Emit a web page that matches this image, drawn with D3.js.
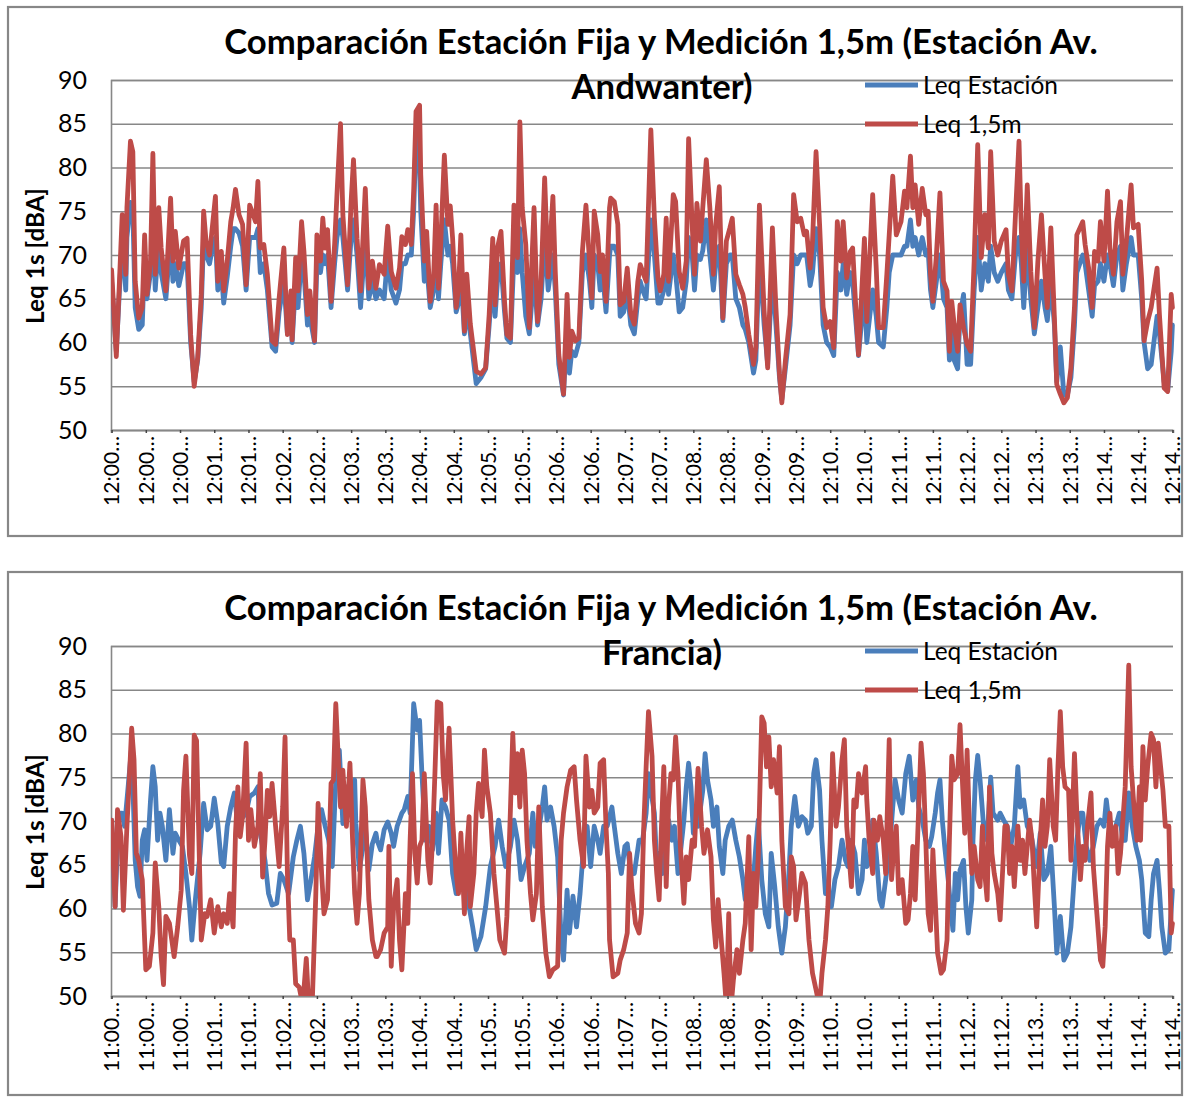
<!DOCTYPE html>
<html><head><meta charset="utf-8">
<script src="https://cdn.jsdelivr.net/npm/d3@7"></script>
<style>body{margin:0;background:#fff;} svg{display:block}</style>
</head><body><svg id="c" width="1185" height="1097"></svg>
<script>
// ---------------- DATA ----------------
const titleLine1 = "Comparación Estación Fija y Medición 1,5m (Estación Av.";
const titleTop2 = "Andwanter)";
const titleBot2 = "Francia)";
const seriesNames = ["Leq Estación", "Leq 1,5m"];
const yTitle = "Leq 1s [dBA]";
const yTickValues = [50, 55, 60, 65, 70, 75, 80, 85, 90];
const tickSeconds = [0,29,58,87,116,145,174,203,232,261,290,319,348,377,406,435,464,493,522,551,580,609,638,667,696,725,754,783,812,841,870,899];
const ticksTop = ["12:00…","12:00…","12:00…","12:01…","12:01…","12:02…","12:02…","12:03…","12:03…","12:04…","12:04…","12:05…","12:05…","12:06…","12:06…","12:07…","12:07…","12:08…","12:08…","12:09…","12:09…","12:10…","12:10…","12:11…","12:11…","12:12…","12:12…","12:13…","12:13…","12:14…","12:14…","12:14…"];
const ticksBottom = ["11:00…","11:00…","11:00…","11:01…","11:01…","11:02…","11:02…","11:03…","11:03…","11:04…","11:04…","11:05…","11:05…","11:06…","11:06…","11:07…","11:07…","11:08…","11:08…","11:09…","11:09…","11:10…","11:10…","11:11…","11:11…","11:12…","11:12…","11:13…","11:13…","11:14…","11:14…","11:14…"];

// Top chart (Av. Andwanter): seconds shared by both series
const topSec = [0,4,9,12,13,16,18,20,23,26,28,30,33,35,37,40,42,46,50,52,54,57,61,64,67,70,73,76,78,80,83,85,88,90,93,95,98,101,103,105,108,111,114,117,119,122,124,126,129,132,136,139,142,146,149,152,153,156,158,161,163,166,168,172,174,177,179,181,183,186,189,191,194,196,200,203,205,208,211,215,218,221,224,
227,231,234,237,241,244,246,249,251,254,256,258,261,262,265,267,270,273,275,277,279,282,285,287,289,292,294,296,299,301,304,309,313,317,320,323,325,327,330,333,335,338,341,344,346,348,351,354,358,361,364,367,370,374,376,379,383,386,388,390,393,396,399,402,405,407,409,412,414,416,419,422,423,426,429,431,434,437,440,443,446,448,
450,453,457,460,463,465,468,470,472,476,478,481,484,487,489,492,494,496,499,501,504,507,510,512,515,518,521,524,526,529,532,535,537,540,544,546,549,553,556,560,563,566,568,571,575,578,581,584,587,589,592,594,597,600,603,606,609,612,615,618,620,623,626,628,631,633,638,640,645,648,650,654,657,659,662,665,669,672,
674,677,679,681,684,687,690,692,694,696,699,702,705,708,710,712,714,717,719,722,725,728,731,734,737,740,743,745,748,751,754,758,760,763,766,769,771,773,776,779,782,785,788,791,793,796,799,801,804,807,810,813,816,818,823,825,828,831,833,836,838,841,844,846,849,852,855,857,860,864,866,870,873,875,878,881,886,888,892,895,898,899];
const topEstacion = [67,59,72,66,72,76,75,64,61.5,62,70,65,68,74,66,72,68,65,72,67,69,66.5,69,69,60,55.5,58,64,72,70,69,70.5,72,66,68,64.5,67.5,71,73,73,72.5,71,66,72,72,72,73,68,69,66,59.5,59,63.5,67,61,64,60,67,64,70,68,62,63,60,69,68,70,69,70,64,69,72,74,72,66,72,74,70,64,72,65,67,65,
66,65,70,66,64.5,66,69,69,70,70,75,83.5,80,75,67,69,64,66,71,65,69,74,70,71,69,63.5,64.5,68,61,64,61,55.3,56,57,62,68,63,67,69,63.5,60.5,60,70,68,73,68,63,61,68,62,65,72,66,70,66,57.5,54,62,56.5,59,58.5,60,68,70,67,64,70,69,66,68,63.5,70,71,71,70,63,63.5,66,62,61,65,67,
66,65,74,70,64.5,64.5,66,70,65.5,70,68,63.5,64,67,72,70,66,70,69.5,70.5,74,70,66,69,71,62.5,69,70,70,65,64,62,61.5,60,56.5,58,70,62,57.5,68,62,56,53.5,57,62,70,69,70,70,70,66.5,68,73,70,62,60,59.5,58.5,68,66,69,65.5,68,67,62,58.5,66,60,66,63,60,59.5,64,68,70,70,70,71,
71,74,71,72,70,72,70,70.5,66,64,67,70,65,64,58,63,58,57,63,65.5,57.5,57.5,66,72,66,69,67,71,68,67,68,69,66,65,70,72,69,64,71,65,61,64,67,64,62.5,67,62,55.5,59.5,54,54,56,62,68,70,69,66,63,66.5,67,69,67,70,69,66.5,70,71,66,69,72,70,70,65,60,57,57.5,63,61,55.5,54.5,59,62];
const top15 = [68.3,58.4,74.6,67.8,75.4,83,81.8,67,62.8,64,72.3,65.5,69.3,81.6,67.8,75.4,70.8,65.9,76.5,69.3,72.7,68.5,71.6,71.9,60.9,55,58.3,65.5,75,71.6,70,72.7,76.7,67,70.4,65.9,69.3,73.8,75.4,77.5,74.6,73.5,66.6,75.7,75,73.8,78.4,70.8,71.2,67.8,60.2,59.8,65.1,70.8,60.9,65.9,60.3,69.7,65.9,73.8,70.4,63.2,65.9,60.2,72.3,69.3,74.2,70.8,72.9,64.7,71.2,76.9,85,74.6,66.6,76.1,80.9,71.9,65.9,77.6,66.2,69.3,66.2,
68.9,67.8,73.3,68.1,66.2,68.5,72.1,71.2,72.9,71.2,77.3,86.4,87.1,79.2,69.3,72.7,64.7,67.8,75.7,66.2,71.6,81.4,73.5,75.6,71.9,64,66.2,72.3,61.3,67.8,62.1,56.7,56.4,57.1,63.2,71.9,64.3,70.8,72.7,64.7,60.9,60.5,75.7,69.7,85.2,75.4,71.2,61.7,75.4,62.4,67,78.8,67.5,76.7,68.1,58.6,54.1,65.5,58.3,61.3,60.2,60.5,70.4,75.7,69.3,65.1,75,72.3,68.1,70,64.7,75.4,76.5,76.1,73.5,64.3,64.7,68.5,63.2,62.1,67,68.9,
68.1,67,84.3,74.2,67.4,65.9,67.8,74.2,67,76.9,76.1,68.1,66.2,69.3,83.3,73.5,67.8,75.9,71.6,75.4,80.9,75.4,67.8,73.5,77.8,62.8,71.6,73.1,74.2,67.8,66.6,65.5,64,60.9,57.5,59.4,75.7,63.6,57.1,73.1,64,56.4,53.1,57.9,63.2,76.9,73.8,74.2,72.3,72.7,68.5,71.6,81.8,73.5,64,61.7,62.4,59.4,73.8,69.3,73.8,67.4,70.4,70.8,63.2,58.6,71.9,62.4,76.9,68.5,61.7,61.7,67.8,72.3,79,72.3,73.8,77.3,
75.4,81.3,75.4,78,73.5,77.6,74.6,75,67.8,64.7,70,77.1,67,65.9,59,64.7,62.1,59,64.3,61.7,59.8,59,69.3,82.6,69.7,74.6,70.8,81.8,71.6,70,71.6,72.9,67.8,65.9,74.6,83,72.7,67,78,68.1,61.7,69.3,74.6,67.8,64,73.1,62.8,55.2,54.1,53.1,53.7,57.1,64,72.3,73.8,71.2,68.5,64,70.4,69.3,73.8,69.3,77.3,70.8,67.8,73.8,76.1,67.8,71.6,78,73.1,73.5,67,60.2,62.4,64,68.5,63.2,54.8,54.4,65.5,64];

// Bottom chart (Av. Francia): each series has its own sampled seconds
const botEstSec = [0,3,6,9,11,14,17,20,22,24,26,28,30,33,35,37,39,41,43,46,49,52,54,57,60,63,66,68,71,75,78,81,84,87,90,93,95,98,101,104,107,109,114,117,121,124,126,130,133,136,140,143,146,150,154,157,160,163,166,169,172,175,178,181,184,187,190,193,196,199,203,206,207,210,213,215,218,221,224,
225,228,231,234,237,239,242,246,248,251,253,256,259,261,263,266,269,272,275,277,280,283,286,289,292,294,299,303,306,309,313,317,321,325,328,331,334,338,341,344,347,350,354,357,359,362,365,367,369,372,375,378,381,383,386,388,391,394,397,400,403,406,409,412,414,417,420,424,426,429,432,435,437,440,443,447,
450,453,455,457,460,462,464,467,470,472,475,477,480,482,485,487,489,491,493,495,497,501,503,505,508,510,513,515,518,520,523,526,529,532,535,537,540,543,546,548,551,554,557,559,562,565,568,571,574,576,579,582,585,588,590,593,595,597,600,602,605,607,610,613,616,619,622,624,627,630,633,636,638,640,643,645,648,651,653,656,659,662,664,667,670,673,
676,679,682,684,687,690,693,695,698,700,702,704,706,709,711,713,715,717,719,722,724,726,729,730,732,734,736,739,742,745,747,751,753,756,759,762,765,768,770,773,776,779,782,784,787,790,793,796,799,801,804,807,810,813,816,818,821,823,826,829,832,835,838,841,843,845,848,851,854,857,859,862,865,868,871,873,876,879,881,883,886,888,890,893,896,899];
const botEstacion = [70.1,60.2,70.9,70.9,69.4,73.9,78.5,65.5,62.5,61.4,67.8,69,65.5,72.4,76.2,73.9,67.8,70.9,69.4,65.5,71.3,66.3,68.6,67.8,67.1,64,60.2,56.4,61,66.3,72,69,69.4,72.6,69.7,65.2,64.8,69.4,71.6,73.2,69.4,70.1,70.9,72.8,73.2,73.9,68.6,65.5,61.7,60.4,60.6,64,63.3,61.7,65.9,67.8,69.4,66.3,61,63.3,65.9,69.4,71.3,69.4,67.8,64.8,74.7,78.1,69.7,73.9,71.6,74.7,69.7,64.4,67.1,69.4,64.4,67.4,68.6,
67.8,66.7,69,69.9,68.6,67.1,69.4,70.9,71.3,72.8,70.9,83.4,80.4,81.5,75.4,67.8,69.4,66.7,70.9,66.3,72.4,71.6,70.1,64,61.7,64,63.3,60.2,57.9,55.3,56.8,60.2,64.8,67.1,70.1,67.1,64.8,67.1,70.1,67.8,63.3,64.8,66.3,70.9,67.1,69,71.6,73.9,70.1,71.6,69.4,65.9,56.4,54.1,62.1,57.2,61.4,57.9,61.7,67.1,69.4,64.8,69.4,67.8,66.3,69.4,69.4,71.6,69.4,66.3,64,67.1,67.4,64,64,67.8,
67.8,70.9,75.4,73.5,70.9,64.8,66.3,64,67.8,70.1,67.8,69.4,64,66.3,70.1,73.9,76.6,73.9,68.6,71.6,69.4,73.5,77.7,74.7,72.4,69.4,71.6,67.1,64,67.8,69.4,70.1,67.8,65.9,63.3,61,64,61.7,67.1,70.1,63.3,59.4,57.9,66.3,62.5,57.9,54.9,57.9,64,69.4,72.8,69.4,70.5,70.1,68.6,69.4,75.4,77,73.5,67.8,61.7,62.5,60.2,63.3,64.8,67.8,65.5,64.8,67.8,66.3,61.7,63.3,67.8,64.8,65.5,70.1,66.3,61,60.2,63.3,66.3,71.6,74.7,72.4,70.9,75.4,
77.4,72.4,74.7,71.6,70.1,67.8,67.1,68.2,70.9,73.2,74.7,70.1,67.1,63.3,60.2,57.5,64,61,64.4,65.5,60.2,57.2,61,67.8,74.7,77.5,74.7,69.4,67.8,75,70.9,70.1,70.9,70.1,69.4,67.1,69.4,76.2,71.6,72.4,69.4,68.6,66.3,64.8,68.6,63.3,64,67.1,60.2,54.9,59.1,54.1,54.9,57.9,64,67.8,70.9,70.9,67.1,65.5,67.1,69.4,70.1,69.4,72.4,70.1,68.6,69.4,70.9,67.8,67.8,73.2,69.4,67.1,65.5,63.3,57.2,56.8,61,64,65.5,62.1,57.9,54.9,55.3,62.1];

const bot15Sec = [0,3,5,8,10,13,15,17,19,21,23,26,29,32,35,37,40,42,44,46,49,51,53,56,59,61,63,66,68,70,72,74,76,79,81,84,87,90,93,95,98,100,103,105,107,109,111,114,116,118,121,124,126,128,130,132,134,136,139,142,145,147,149,151,154,156,159,162,165,167,170,173,175,178,180,183,186,188,190,192,194,196,199,202,204,206,208,210,213,215,218,221,224,
225,228,231,234,235,237,239,242,244,246,249,251,253,255,257,259,261,263,265,268,270,272,274,276,279,281,283,286,289,292,294,296,299,301,303,304,307,309,311,314,316,318,321,324,326,329,333,335,338,340,342,344,346,348,350,352,355,357,360,362,365,368,371,374,378,381,383,386,389,392,394,397,400,402,405,407,409,412,414,417,419,421,422,425,429,431,434,437,439,441,444,447,
449,451,453,455,458,460,462,464,466,468,470,472,474,476,478,480,482,485,487,489,492,494,497,500,502,505,508,510,512,514,516,519,521,523,525,527,530,532,535,537,540,542,544,546,548,551,553,555,557,559,561,564,566,568,571,574,576,578,580,583,585,588,591,594,597,600,602,605,607,609,611,614,616,619,621,623,625,627,629,631,633,636,639,640,642,645,646,649,651,654,656,659,661,663,665,667,670,673,
675,677,679,681,683,686,688,690,692,694,696,698,700,703,705,708,710,712,714,717,719,721,723,725,727,729,731,734,736,738,740,742,744,746,748,751,753,755,757,759,761,763,765,768,770,772,774,776,778,780,782,784,787,789,791,793,795,798,800,802,804,806,808,811,813,816,818,821,823,825,827,830,832,835,838,840,842,844,846,848,851,853,855,857,859,862,864,866,869,871,872,874,876,878,881,883,885,887,889,891,893,896,898,899];
const bot15 = [70.1,60.2,71.3,68.2,59.8,69.4,74.7,80.6,77,66.3,65.5,63.3,53,53.4,57.2,65.2,60.2,54.5,51.3,59.1,58.3,56.4,54.5,57.9,62.1,73.5,77.4,66.1,64,79.8,79.2,67.8,56.4,59.4,59.1,61,57.2,60.2,57.9,59.4,58.3,61.7,57.9,68.6,73.9,68.2,70.5,78.9,67.8,71.3,67.1,69.4,75.4,63.6,67.8,73.5,70.5,74.3,69.4,64.8,71.6,79.6,64,56.4,56.4,51.4,51,49,54.3,49,49,61.3,72,64,59.4,61,74.3,74.7,83.4,77.4,71.6,75.8,69.4,76.6,68.6,61.7,58.3,61.7,74.7,71.6,61,56.4,54.5,
54.5,55.3,57.2,57.9,67.1,53.4,60.2,63.3,56.4,53,61.7,58.3,67.8,75.4,66.3,62.9,67.1,67.8,75.4,65.5,62.9,67.8,75.4,83.6,83.4,75.4,72.4,80.6,70.1,64,61.7,68.6,59.4,66.7,70.5,60.2,64,70.9,74.3,70.5,78.1,73.9,70.9,64,61,56.4,54.9,59.1,71.3,80,73.2,77.7,71.6,78.1,75.4,67.8,61.7,58.7,61.7,71.6,60.2,54.9,52.2,53,53.4,67.8,70.9,73.9,75.8,76.2,72.4,67.8,64.8,77.4,71.6,73.5,70.9,71.6,76.6,77,69.4,64,56.4,52.2,52.6,54.1,55.3,57.2,66.3,62.1,58.3,57.2,
59.4,69.4,76.2,82.5,77.4,67.8,64,61,69.4,76.2,62.5,71.6,75.4,74.7,79.6,75.4,67.1,60.6,65.9,63.3,67.8,67.1,76,69.4,66.3,69,65.9,58.7,55.6,61,57.5,52.6,48.8,59.4,48.8,51.9,55.3,52.6,56.4,58.3,68.2,55.3,64,60.2,65.9,81.9,81.2,76.2,79.6,73.9,77,73.2,78.5,67.8,60.2,59.4,65.9,64.8,58.7,61.7,64,62.9,56.4,52.6,50.7,48.8,52.6,56.4,60.2,67.8,77.7,69.4,71.6,77,79.3,69.4,65.9,62.5,72.4,71.6,75.4,73.2,76.2,72.4,67.8,64,70.1,67.8,70.5,67.8,64,79.3,63.3,67.1,69.4,61.7,63.3,58.3,
58.7,61.7,67.1,61,67.8,78.9,75.4,67.8,59.4,57.5,66.7,61,54.9,52.6,53,56.4,67.8,77.4,74.7,75.4,81,74.7,68.6,78.1,69.4,64,67.1,63.3,62.5,69.4,64,61,73.9,66.3,64,61.7,58.7,64,69.4,69.4,64,67.1,62.5,69.4,65.5,67.8,64,67.1,70.1,67.8,62.5,57.9,67.8,72.4,67.1,69.4,77,69.4,67.8,76.2,82.5,76.2,73.9,73.5,65.5,77.7,70.9,63.3,67.1,65.5,69.4,73.2,64.8,59.4,54.1,53.4,57.9,67.1,70.9,67.1,69.4,64,66.3,70.1,73.9,87.8,76.2,72.4,67.8,73.9,67.8,78.5,72.4,76.2,80,79.3,73.9,78.9,76.2,73.5,69.4,69.4,57.2,58.3];

// ---------------- DRAWING ----------------
const svg = d3.select('#c');
const FONT = "Lato, 'Open Sans', sans-serif";
const BLUE = '#4A7EBB', RED = '#BE4B48', GRID = '#878787';
const X0 = 111, X1 = 1173;

function fitText(sel, target) {
  const n = sel.node();
  const w = n.getComputedTextLength();
  const fs = parseFloat(sel.attr('font-size'));
  if (w > 0) sel.attr('font-size', (fs * target / w).toFixed(2));
  return parseFloat(sel.attr('font-size'));
}

function panel(cfg) {
  const oy = cfg.oy;
  const g = svg.append('g');
  g.append('rect').attr('x', 8).attr('y', cfg.frameY).attr('width', 1174).attr('height', cfg.frameH)
    .attr('fill', '#fff').attr('stroke', GRID).attr('stroke-width', 2.2);

  const x = d3.scaleLinear().domain([-0.5, 899.5]).range([X0, X1]);
  const y = d3.scaleLinear().domain([50, 90]).range([430 + oy, 80 + oy]);

  // gridlines + y labels
  const ya = g.append('g').attr('transform', `translate(${X0},0)`)
    .call(d3.axisLeft(y).tickValues(yTickValues).tickSize(-(X1 - X0)).tickPadding(24).tickFormat(d3.format('d')));
  ya.select('.domain').attr('stroke', GRID).attr('stroke-width', 1.6);
  ya.selectAll('.tick line').attr('stroke', GRID).attr('stroke-width', 1.6);
  ya.selectAll('.tick text').attr('font-family', FONT).attr('font-size', cfg.yfs).attr('fill', '#000');

  // x axis
  const xa = g.append('g').attr('transform', `translate(0,${430 + oy})`)
    .call(d3.axisBottom(x).tickValues(tickSeconds).tickSizeOuter(0).tickSize(3).tickFormat((d, i) => cfg.ticks[i]));
  xa.select('.domain').attr('stroke', GRID).attr('stroke-width', 1.6);
  xa.selectAll('.tick line').attr('stroke', '#444').attr('stroke-width', 1.5);
  xa.selectAll('.tick text').attr('font-family', FONT).attr('font-size', cfg.xfs).attr('fill', '#000')
    .attr('transform', 'rotate(-90)').attr('text-anchor', 'end').attr('x', -6).attr('y', 0).attr('dy', '0.35em');

  // series
  const clipId = 'clip' + cfg.id;
  g.append('clipPath').attr('id', clipId).append('rect')
    .attr('x', X0).attr('y', 80 + oy - 10).attr('width', X1 - X0 + 4).attr('height', 360);
  const line = d3.line().x(d => x(d[0])).y(d => y(d[1]));
  const est = cfg.estSec.map((s, i) => [s, cfg.estVal[i]]);
  const l15 = cfg.l15Sec.map((s, i) => [s, cfg.l15Val[i]]);
  const sg = g.append('g').attr('clip-path', `url(#${clipId})`);
  sg.append('path').datum(est).attr('d', line).attr('fill', 'none').attr('stroke', BLUE)
    .attr('stroke-width', 4.8).attr('stroke-linejoin', 'round').attr('stroke-linecap', 'round');
  sg.append('path').datum(l15).attr('d', line).attr('fill', 'none').attr('stroke', RED)
    .attr('stroke-width', 4.8).attr('stroke-linejoin', 'round').attr('stroke-linecap', 'round');

  // title
  g.append('text').attr('x', 661).attr('y', 54 + oy).attr('text-anchor', 'middle')
    .attr('font-family', FONT).attr('font-weight', 'bold').attr('font-size', cfg.tfs).text(titleLine1);
  g.append('text').attr('x', 662).attr('y', 99 + oy).attr('text-anchor', 'middle')
    .attr('font-family', FONT).attr('font-weight', 'bold').attr('font-size', cfg.tfs).text(cfg.title2);

  // y title
  g.append('text').attr('transform', `translate(44,${256 + oy}) rotate(-90)`).attr('text-anchor', 'middle')
    .attr('font-family', FONT).attr('font-weight', 'bold').attr('font-size', cfg.ylfs).text(yTitle);

  // legend
  const ly = [85 + oy, 124 + oy];
  [BLUE, RED].forEach((c, i) => {
    g.append('line').attr('x1', 865).attr('x2', 918).attr('y1', ly[i]).attr('y2', ly[i])
      .attr('stroke', c).attr('stroke-width', 4.8);
    g.append('text').attr('x', 923).attr('y', ly[i]).attr('dy', '0.35em')
      .attr('font-family', FONT).attr('font-size', cfg.lfs).attr('fill', '#000').text(seriesNames[i]);
  });
}

// measure fonts once with probes
function probe(txt, weight, target) {
  const t = svg.append('text').attr('font-family', FONT).attr('font-weight', weight).attr('font-size', 20).text(txt);
  const fs = fitText(t, target);
  t.remove();
  return fs;
}
const tfs = probe(titleLine1, 'bold', 874);
const yfs = probe("90", 'normal', 29);
const xfs = probe("12:00…", 'normal', 70);
const ylfs = probe(yTitle, 'bold', 136);
const lfs = probe(seriesNames[0], 'normal', 135);

panel({id: 1, oy: 0, frameY: 7, frameH: 529, title2: titleTop2, ticks: ticksTop,
  estSec: topSec, estVal: topEstacion, l15Sec: topSec, l15Val: top15, tfs, yfs, xfs, ylfs, lfs});
panel({id: 2, oy: 566, frameY: 572, frameH: 523, title2: titleBot2, ticks: ticksBottom,
  estSec: botEstSec, estVal: botEstacion, l15Sec: bot15Sec, l15Val: bot15, tfs, yfs, xfs, ylfs, lfs});
</script>
</body></html>
